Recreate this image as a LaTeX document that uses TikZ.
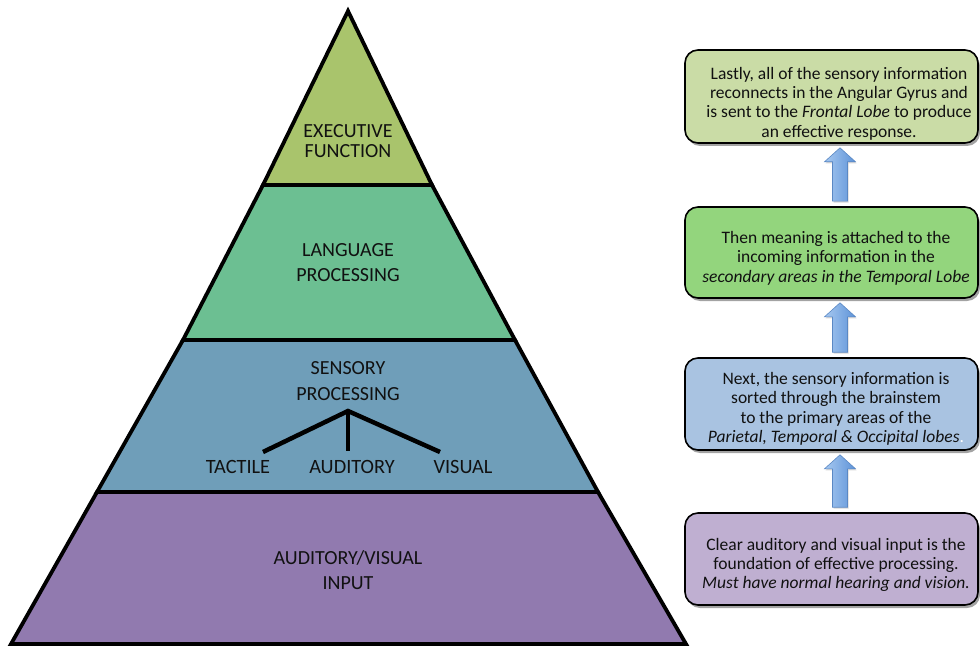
\documentclass[tikz,border=0pt]{standalone}
\usepackage{fontspec}
\setmainfont{Carlito}
\usetikzlibrary{calc,shadows}
\definecolor{cexec}{HTML}{A9C46C}
\definecolor{clang}{HTML}{6CBF92}
\definecolor{csens}{HTML}{6F9EB9}
\definecolor{cinput}{HTML}{917AAF}
\definecolor{bxone}{HTML}{CADCA6}
\definecolor{bxtwo}{HTML}{93D57D}
\definecolor{bxthree}{HTML}{A9C3E1}
\definecolor{bxfour}{HTML}{BFAFD1}
\definecolor{arrA}{HTML}{A6C8F0}
\definecolor{arrB}{HTML}{5E93D8}
\definecolor{arrborder}{HTML}{5A88C4}
\definecolor{txt}{HTML}{111111}
\tikzset{
  band/.style={draw=black, line width=3.8pt, line join=miter},
  plabel/.style={align=center, text=txt, inner sep=0pt, font=\fontsize{20}{25.5}\selectfont},
  sublabel/.style={text=txt, inner sep=0pt, font=\fontsize{20.3}{20}\selectfont},
  treeline/.style={line width=4.5pt, line cap=butt},
  infobox/.style={draw=black, line width=1.6pt, rounded corners=13pt, minimum width=293pt,
    drop shadow={shadow xshift=2pt, shadow yshift=-3pt, fill=black!60, opacity=0.6}},
  infotext/.style={align=center, text=txt, inner sep=0pt, font=\fontsize{17.5}{19.4}\selectfont},
  blockarr/.style={draw=arrborder, line width=0.6pt, left color=arrA, right color=arrB, line join=miter,
    drop shadow={shadow xshift=1pt, shadow yshift=-1.5pt, fill=black!40, opacity=0.4}}
}
\newcommand{\uparrowblk}[2]{%
  \path let \p1=($(#1.south)+(8.5,0)$), \p2=(#2.north) in
    [blockarr] (\x1,\y1-4pt) -- (\x1+15.5pt,\y1-18pt) -- (\x1+7.5pt,\y1-18pt) -- (\x1+7.5pt,\y2+5pt)
    -- (\x1-7.5pt,\y2+5pt) -- (\x1-7.5pt,\y1-18pt) -- (\x1-15.5pt,\y1-18pt) -- cycle;}
\begin{document}
\begin{tikzpicture}[x=1pt,y=-1pt]
\useasboundingbox (0,0) rectangle (980,647);
% pyramid corners
\coordinate (A) at (348,11);
\coordinate (L1) at (263,185); \coordinate (R1) at (432,185);
\coordinate (L2) at (183,340); \coordinate (R2) at (515,340);
\coordinate (L3) at (97,492);  \coordinate (R3) at (598,492);
\coordinate (L4) at (11,644);  \coordinate (R4) at (686,644);
\path[band, fill=cinput] (L3) -- (R3) -- (R4) -- (L4) -- cycle;
\path[band, fill=csens] (L2) -- (R2) -- (R3) -- (L3) -- cycle;
\path[band, fill=clang] (L1) -- (R1) -- (R2) -- (L2) -- cycle;
\path[band, fill=cexec] (A) -- (R1) -- (L1) -- cycle;
% labels
\node[plabel, font=\fontsize{20}{20}\selectfont] (exec) at (348,141) {EXECUTIVE\\FUNCTION};
\node[plabel] (lang) at (348,262.5) {LANGUAGE\\PROCESSING};
\node[plabel] (sens) at (348,381) {SENSORY\\PROCESSING};
\node[plabel] (input) at (348,570) {AUDITORY/VISUAL\\INPUT};
\node[sublabel] (tactile) at (238,467) {TACTILE};
\node[sublabel] (auditory) at (352,467) {AUDITORY};
\node[sublabel] (visual) at (463,467) {VISUAL};
\coordinate (tp) at (348,411);
\coordinate (tl) at (263,452);
\coordinate (tm) at (348,451);
\coordinate (tr) at (440,452);
\draw[treeline, line join=miter] (tl) -- (tp) -- (tr);
\draw[treeline] (tp) -- (tm);
% boxes
\node[infobox, fill=bxone, minimum height=93pt] (b1) at (831.5,96.5) {};
\node[infobox, fill=bxtwo, minimum height=91pt] (b2) at (831.5,252.5) {};
\node[infobox, fill=bxthree, minimum height=92pt] (b3) at (831.5,404) {};
\node[infobox, fill=bxfour, minimum height=92pt] (b4) at (831.5,559) {};
\node[infotext] (t1) at (839,103.5) {Lastly, all of the sensory information\\reconnects in the Angular Gyrus and\\is sent to the \textit{Frontal Lobe} to produce\\an effective response.};
\node[infotext] (t2) at (836,258) {Then meaning is attached to the\\incoming information in the\\\textit{secondary areas in the Temporal Lobe}};
\node[infotext] (t3) at (836,409) {Next, the sensory information is\\sorted through the brainstem\\to the primary areas of the\\\textit{Parietal, Temporal \& Occipital lobes}\textcolor{white}{.}};
\node[infotext] (t4) at (836,565) {Clear auditory and visual input is the\\foundation of effective processing.\\\textit{Must have normal hearing and vision.}};
% arrows
\uparrowblk{b1}{b2}
\uparrowblk{b2}{b3}
\uparrowblk{b3}{b4}
\end{tikzpicture}
\end{document}
